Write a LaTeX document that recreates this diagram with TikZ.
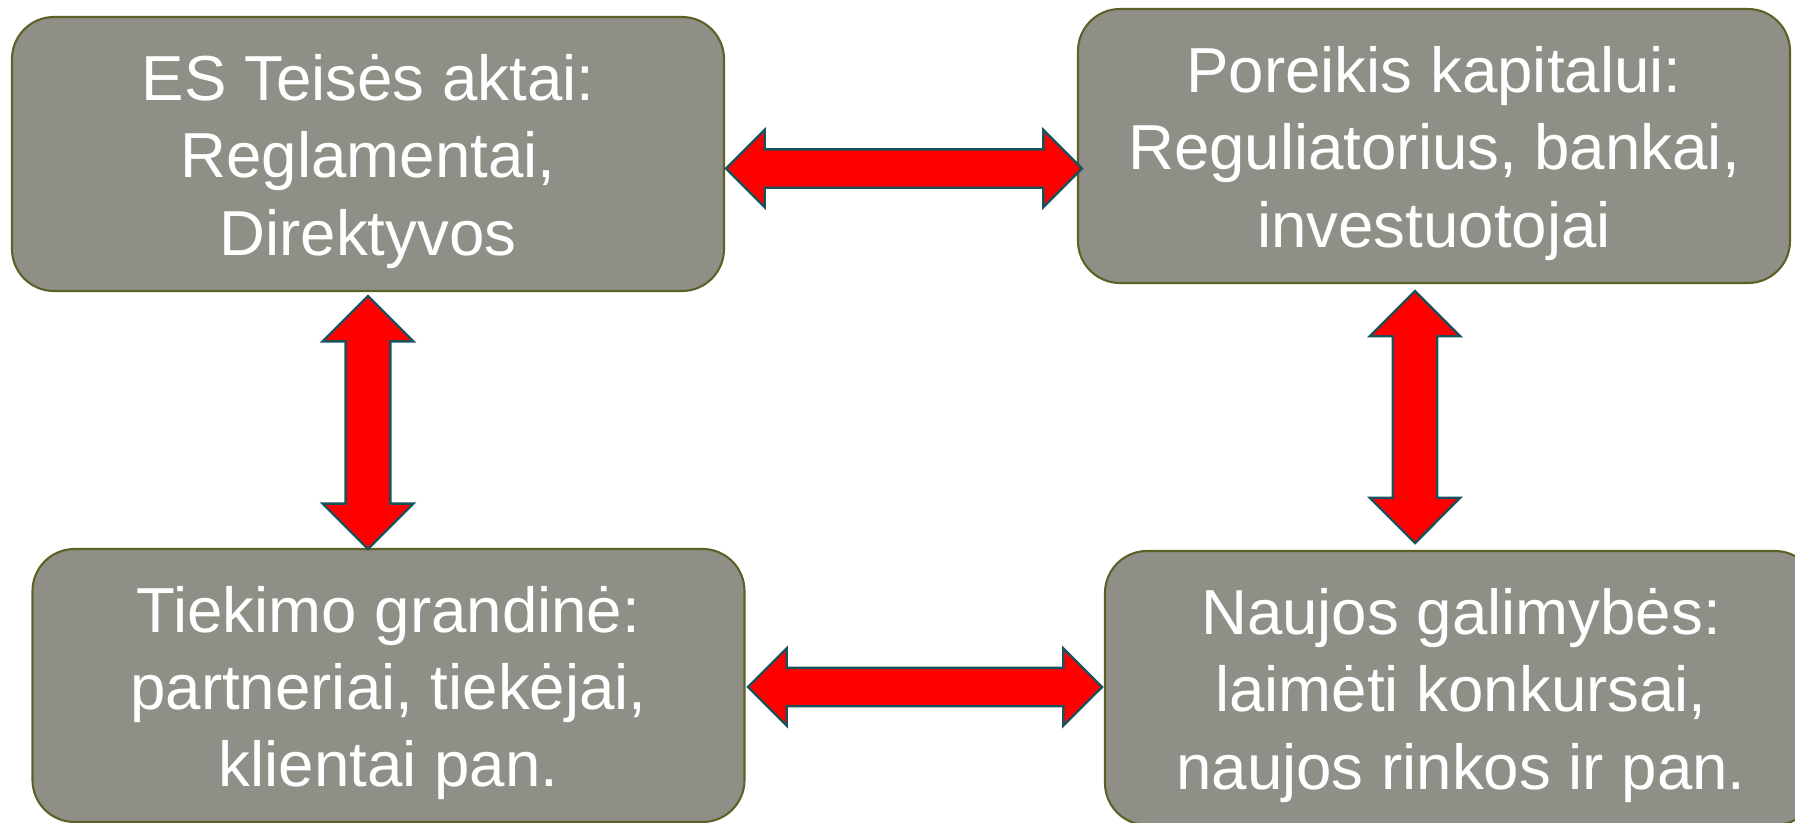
\documentclass[tikz,border=0pt]{standalone}
\usepackage{fontspec}
\setmainfont{Liberation Sans}
\usetikzlibrary{shapes.arrows}
\definecolor{pilka}{RGB}{143,143,135}
\definecolor{alyvuoge}{RGB}{94,97,38}
\definecolor{melsva}{RGB}{24,82,92}
\newcommand{\virsus}{\rule{0pt}{6.1mm}}
\begin{document}
\begin{tikzpicture}[x=1mm,y=-1mm]
\tikzstyle{blokas}=[draw=alyvuoge,line width=0.6pt,fill=pilka,rounded corners=4.2mm,
  minimum width=71.2mm,minimum height=27.4mm,align=center,text=white,
  font=\fontsize{18.1}{22}\selectfont]
\tikzstyle{rodykle}=[double arrow,draw=melsva,line width=0.7pt,fill=red,inner sep=1.8mm,
  double arrow head extend=1.95mm]
\useasboundingbox (0,0) rectangle (179.5,82.3);

  \node(teise)[blokas] at (36.8,15.4) {\virsus ES Teisės aktai:\\Reglamentai,\\Direktyvos};
  \node(kapit)[blokas] at (143.4,14.6) {\virsus Poreikis kapitalui:\\Reguliatorius, bankai,\\investuotojai};
  \node(tiek)[blokas,minimum height=27.3mm] at (38.85,68.55) {\virsus Tiekimo grandinė:\\partneriai, tiekėjai,\\klientai pan.};
  \node(gal)[blokas] at (146.1,68.8) {\virsus Naujos galimybės:\\laimėti konkursai,\\naujos rinkos ir pan.};

  % rodykles tarp bloku
  \node(r1)[rodykle,minimum height=35.6mm] at (90.4,16.85) {};
  \node(r2)[rodykle,minimum height=35.4mm] at (92.5,68.7) {};
  \node(r3)[rodykle,shape border rotate=90,minimum height=25.3mm,inner sep=2.12mm,double arrow head extend=2.3mm] at (36.8,42.25) {};
  \node(r4)[rodykle,shape border rotate=90,minimum height=25.2mm,inner sep=2.1mm,double arrow head extend=2.3mm] at (141.5,41.7) {};

\end{tikzpicture}
\end{document}
